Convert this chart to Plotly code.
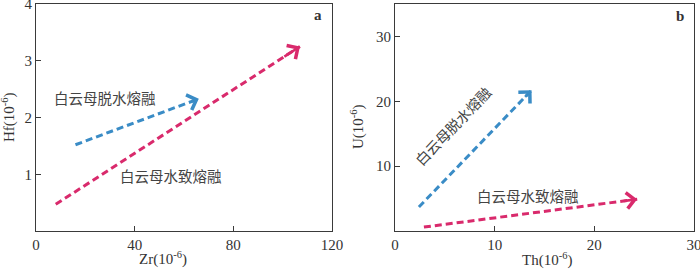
import plotly.graph_objects as go

# ---- data ----
a_x_ticks = [0, 40, 80, 120]
a_y_ticks = [1, 2, 3, 4]
b_x_ticks = [0, 10, 20, 30]
b_y_ticks = [10, 20, 30]

a_dehyd_x = [16, 66]      # 白云母脱水熔融 (Zr)
a_dehyd_y = [1.52, 2.33]  # (Hf)
a_fluid_x = [8, 107]      # 白云母水致熔融
a_fluid_y = [0.47, 3.25]

b_dehyd_x = [2.4, 13.7]   # (Th)
b_dehyd_y = [3.7, 21.7]   # (U)
b_fluid_x = [2.9, 24.3]
b_fluid_y = [0.6, 4.9]

label_dehyd = "白云母脱水熔融"
label_fluid = "白云母水致熔融"

BLUE = "#3a8cc6"
PINK = "#d92a6c"
AX = "#3a3a3a"
SERIF = "Liberation Serif, Times New Roman, serif"
CJK = "Noto Sans CJK SC"

fig = go.Figure()

def arrow(xs, ys, color, xref, yref):
    fig.add_trace(go.Scatter(x=xs, y=ys, mode="lines", xaxis=xref, yaxis=yref,
                             line=dict(color=color, width=3, dash="7px,4px"),
                             hoverinfo="skip", showlegend=False))
    # arrow head: short annotation ending at the tip
    tx = xs[0] + 0.93 * (xs[1] - xs[0])
    ty = ys[0] + 0.93 * (ys[1] - ys[0])
    fig.add_annotation(x=xs[1], y=ys[1], ax=tx, ay=ty,
                       xref=xref, yref=yref, axref=xref, ayref=yref,
                       text="", showarrow=True, arrowhead=4, arrowsize=1.2,
                       arrowwidth=2.6, arrowcolor=color, standoff=0)

arrow(a_dehyd_x, a_dehyd_y, BLUE, "x", "y")
arrow(a_fluid_x, a_fluid_y, PINK, "x", "y")
arrow(b_dehyd_x, b_dehyd_y, BLUE, "x2", "y2")
arrow(b_fluid_x, b_fluid_y, PINK, "x2", "y2")

W, H = 700, 270
ydom = [(H - 231) / H, (H - 4) / H]
axis_common = dict(showline=True, mirror=True, linecolor=AX, linewidth=1,
                   ticks="inside", ticklen=5, tickcolor=AX, showgrid=False,
                   zeroline=False, automargin=False, ticklabeloverflow="allow",
                   tickfont=dict(family=SERIF, size=15, color="#333"))

fig.update_layout(
    width=W, height=H, margin=dict(l=0, r=0, t=0, b=0),
    paper_bgcolor="white", plot_bgcolor="white", showlegend=False,
    xaxis=dict(domain=[36 / W, 332 / W], range=[0, 120], tickvals=a_x_ticks,
               anchor="y", **axis_common),
    yaxis=dict(domain=ydom, range=[0, 4], tickvals=a_y_ticks, anchor="x",
               **axis_common),
    xaxis2=dict(domain=[395 / W, 694 / W], range=[0, 30], tickvals=b_x_ticks,
                anchor="y2", **axis_common),
    yaxis2=dict(domain=ydom, range=[0, 35], tickvals=b_y_ticks, anchor="x2",
                **axis_common),
)

tf = dict(family=SERIF, size=15, color="#333")
cf = dict(family=CJK, size=14.5, color="#444")
pa = dict(xref="paper", yref="paper", showarrow=False, xanchor="center",
          yanchor="middle")

# axis titles
fig.add_annotation(text="Zr(10<sup>-6</sup>)", x=163 / W, y=(H - 258) / H,
                   font=tf, **pa)
fig.add_annotation(text="Th(10<sup>-6</sup>)", x=547 / W, y=(H - 259) / H,
                   font=tf, **pa)
fig.add_annotation(text="Hf(10<sup>-6</sup>)", x=8 / W, y=(H - 117) / H,
                   font=tf, textangle=-90, **pa)
fig.add_annotation(text="U(10<sup>-6</sup>)", x=358 / W, y=(H - 127) / H,
                   font=tf, textangle=-90, **pa)

# panel letters
fig.add_annotation(text="<b>a</b>", x=318 / W, y=(H - 15) / H, font=tf, **pa)
fig.add_annotation(text="<b>b</b>", x=680 / W, y=(H - 16) / H, font=tf, **pa)

# in-plot labels
fig.add_annotation(text=label_dehyd, x=28, y=2.35, xref="x", yref="y",
                   showarrow=False, font=cf)
fig.add_annotation(text=label_fluid, x=54.6, y=0.98, xref="x", yref="y",
                   showarrow=False, font=cf)
fig.add_annotation(text=label_dehyd, x=5.8, y=16.2, xref="x2", yref="y2",
                   showarrow=False, font=cf, textangle=-46)
fig.add_annotation(text=label_fluid, x=13.3, y=5.5, xref="x2", yref="y2",
                   showarrow=False, font=cf)

fig.write_html("out.html", config={"displayModeBar": False},
               post_script="document.body.style.margin='0px';document.body.style.overflow='hidden';")
